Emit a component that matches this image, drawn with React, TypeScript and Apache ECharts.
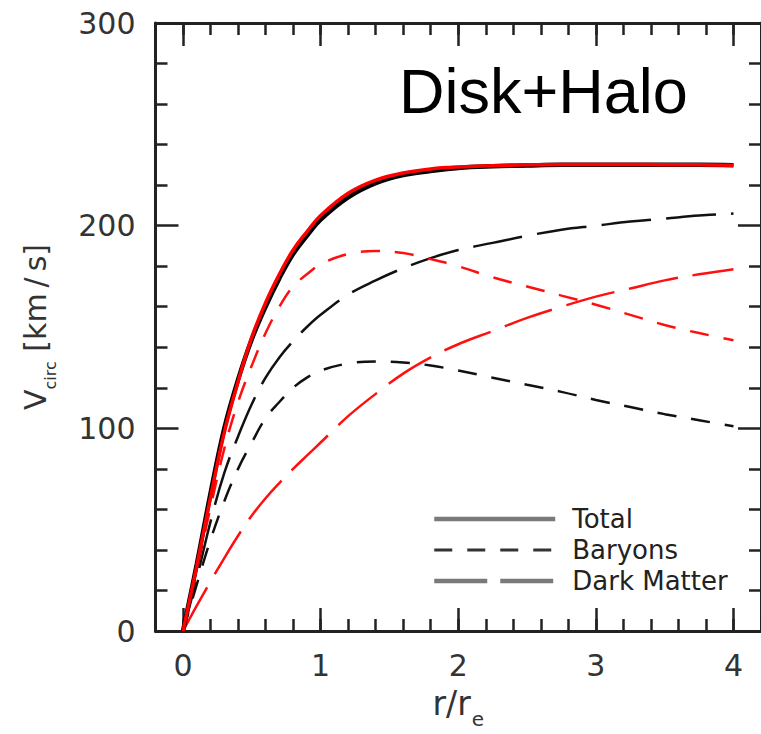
import React, { useEffect, useRef } from 'react';
import * as echarts from 'echarts';

const radius = [0, 0.1, 0.2, 0.3, 0.4, 0.5, 0.6, 0.7, 0.8, 0.9, 1.0, 1.2, 1.4, 1.6, 1.8, 2.0, 2.25, 2.5, 2.75, 3.0, 3.25, 3.5, 3.75, 4.0];
const totalBlack = [0, 33, 68, 100, 124, 144, 160, 174, 186, 195, 203, 214, 221, 225, 227, 228.5, 229.3, 229.7, 230, 230, 230, 230, 230, 229.8];
const totalRed = [0, 32, 66, 98, 123, 145, 162, 176, 188, 197, 205, 216, 222.5, 226, 228, 229, 229.6, 230, 230.2, 230.2, 230.2, 230.1, 230, 229.8];
const baryonsBlack = [0, 23, 45, 64, 80, 93, 105, 113, 120, 125, 128.5, 132, 133, 132.5, 131, 128.5, 125, 121.5, 118, 114, 110.5, 107, 104, 101];
const darkBlack = [0, 26, 54, 78, 96, 112, 125, 135, 143, 150, 156, 166, 173, 179, 184, 188, 191.5, 195, 198, 200, 202, 203.5, 205, 206];
const baryonsRed = [0, 30, 61, 90, 113, 131, 147, 160, 170, 176, 181, 186, 187.5, 186.5, 183.5, 180, 174.5, 170, 165.5, 161, 156, 151, 147, 143.5];
const darkRed = [0, 12.5, 24.5, 36, 47, 57, 65.5, 73, 80, 86.5, 93, 106, 117, 127, 135, 141.5, 148, 154.5, 160, 165, 169, 173, 176, 178.5];

const xMajorTicks = [0, 1, 2, 3, 4];
const legendNames = ['Total', 'Baryons', 'Dark Matter'];
const panelTitle = 'Disk+Halo';

const FONT = 'DejaVu Sans';
const AX = '#222';
const TXT = '#333';
const SHORT_DASH = [19, 15];
const LONG_DASH = [50, 15];
const LEG_SHORT = [18, 15];
const LEG_LONG = [53, 13];

function pts(arr: number[]) {
  return radius.map((r, i) => [r, arr[i]]);
}

export default function App() {
  const ref = useRef<HTMLDivElement>(null);
  useEffect(() => {
    const chart = echarts.init(ref.current!, null, { renderer: 'svg' });
    const xBase = { type: 'value', min: -0.2, max: 4.2, gridIndex: 0 };
    const lineSeries = (name: string, data: number[], color: string, width: number, type: any, z: number) => ({
      type: 'line',
      name,
      data: pts(data),
      showSymbol: false,
      symbol: 'none',
      smooth: 0.4,
      clip: true,
      z,
      lineStyle: { color, width, type },
      silent: true,
    });
    const legendSeries = (name: string, color: string, type: any) => ({
      type: 'line',
      name,
      data: [],
      symbol: 'none',
      color,
      lineStyle: { color, width: 4, type },
    });
    const option: any = {
      animation: false,
      backgroundColor: '#fff',
      grid: { left: 155.5, top: 23, width: 614, height: 613, containLabel: false },
      xAxis: [
        {
          ...xBase,
          position: 'bottom',
          interval: 0.2,
          axisLine: { show: true, onZero: false, lineStyle: { color: AX, width: 3 } },
          axisTick: { show: true, inside: true, length: 12, lineStyle: { color: AX, width: 2.5 } },
          axisLabel: { show: true, customValues: xMajorTicks, margin: 19, fontSize: 30, fontFamily: FONT, color: TXT },
          splitLine: { show: false },
          name: '{a|r/r}{b|e}',
          nameLocation: 'middle',
          nameGap: 56,
          nameTextStyle: {
            fontFamily: FONT,
            color: TXT,
            rich: {
              a: { fontSize: 33, fontFamily: FONT, color: TXT, lineHeight: 34, verticalAlign: 'top' },
              b: { fontSize: 20, fontFamily: FONT, color: TXT, padding: [22, 0, 0, 1], verticalAlign: 'bottom' },
            },
          },
        },
        {
          ...xBase,
          position: 'bottom',
          axisLine: { show: false, onZero: false },
          axisTick: { show: true, inside: true, length: 23, customValues: xMajorTicks, lineStyle: { color: AX, width: 2.5 } },
          axisLabel: { show: false },
          splitLine: { show: false },
        },
        {
          ...xBase,
          position: 'top',
          interval: 0.2,
          axisLine: { show: true, onZero: false, lineStyle: { color: AX, width: 3 } },
          axisTick: { show: true, inside: true, length: 12, lineStyle: { color: AX, width: 2.5 } },
          axisLabel: { show: false },
          splitLine: { show: false },
        },
        {
          ...xBase,
          position: 'top',
          axisLine: { show: false, onZero: false },
          axisTick: { show: true, inside: true, length: 23, customValues: xMajorTicks, lineStyle: { color: AX, width: 2.5 } },
          axisLabel: { show: false },
          splitLine: { show: false },
        },
      ],
      yAxis: [
        {
          type: 'value',
          min: 0,
          max: 300,
          interval: 100,
          position: 'left',
          axisLine: { show: true, onZero: false, lineStyle: { color: AX, width: 3 } },
          axisTick: { show: true, inside: true, length: 23, lineStyle: { color: AX, width: 2.5 } },
          minorTick: { show: true, splitNumber: 5, length: 12, lineStyle: { color: AX, width: 2.5 } },
          axisLabel: { show: true, margin: 20, fontSize: 30, fontFamily: FONT, color: TXT },
          splitLine: { show: false },
          name: '{a|V}{b|circ}{a| [km\u2009/\u2009s]}',
          nameLocation: 'middle',
          nameRotate: 90,
          nameGap: 97,
          nameTextStyle: {
            fontFamily: FONT,
            color: TXT,
            rich: {
              a: { fontSize: 30, fontFamily: FONT, color: TXT, lineHeight: 31, verticalAlign: 'top' },
              b: { fontSize: 16, fontFamily: FONT, color: TXT, padding: [22, 0, 0, 0], verticalAlign: 'bottom' },
            },
          },
        },
        {
          type: 'value',
          min: 0,
          max: 300,
          interval: 100,
          position: 'right',
          axisLine: { show: true, onZero: false, lineStyle: { color: AX, width: 3 } },
          axisTick: { show: true, inside: true, length: 23, lineStyle: { color: AX, width: 2.5 } },
          minorTick: { show: true, splitNumber: 5, length: 12, lineStyle: { color: AX, width: 2.5 } },
          axisLabel: { show: false },
          splitLine: { show: false },
        },
      ],
      legend: {
        orient: 'vertical',
        left: 432,
        top: 505,
        padding: 0,
        itemWidth: 121,
        itemHeight: 28,
        itemGap: 3,
        selectedMode: false,
        itemStyle: { opacity: 0 },
        data: [
          { name: legendNames[0], lineStyle: { width: 4.5 } },
          { name: legendNames[1], lineStyle: { width: 3 } },
          { name: legendNames[2], lineStyle: { width: 4.5 } },
        ],
        textStyle: { fontFamily: FONT, fontSize: 26, color: '#222', padding: [0, 0, 0, 12], lineHeight: 28 },
      },
      graphic: [
        {
          type: 'text',
          left: 399,
          top: 59,
          style: { text: panelTitle, fontFamily: 'Liberation Sans', fontSize: 63, fill: '#000' },
        },
      ],
      series: [
        lineSeries('bar-black', baryonsBlack, '#111', 2.5, SHORT_DASH, 2),
        lineSeries('dm-black', darkBlack, '#111', 2.5, LONG_DASH, 2),
        lineSeries('bar-red', baryonsRed, '#ff1010', 2.5, SHORT_DASH, 3),
        lineSeries('dm-red', darkRed, '#ff1010', 2.5, LONG_DASH, 3),
        lineSeries('tot-black', totalBlack, '#000', 4.5, 'solid', 4),
        lineSeries('tot-red', totalRed, '#ff0000', 3.5, 'solid', 5),
        legendSeries(legendNames[0], '#7a7a7a', 'solid'),
        legendSeries(legendNames[1], '#333', LEG_SHORT),
        legendSeries(legendNames[2], '#7a7a7a', LEG_LONG),
      ],
    };
    chart.setOption(option);
    return () => chart.dispose();
  }, []);
  return <div ref={ref} style={{ position: 'absolute', left: 0, top: 0, width: 761, height: 734, background: '#fff' }} />;
}
